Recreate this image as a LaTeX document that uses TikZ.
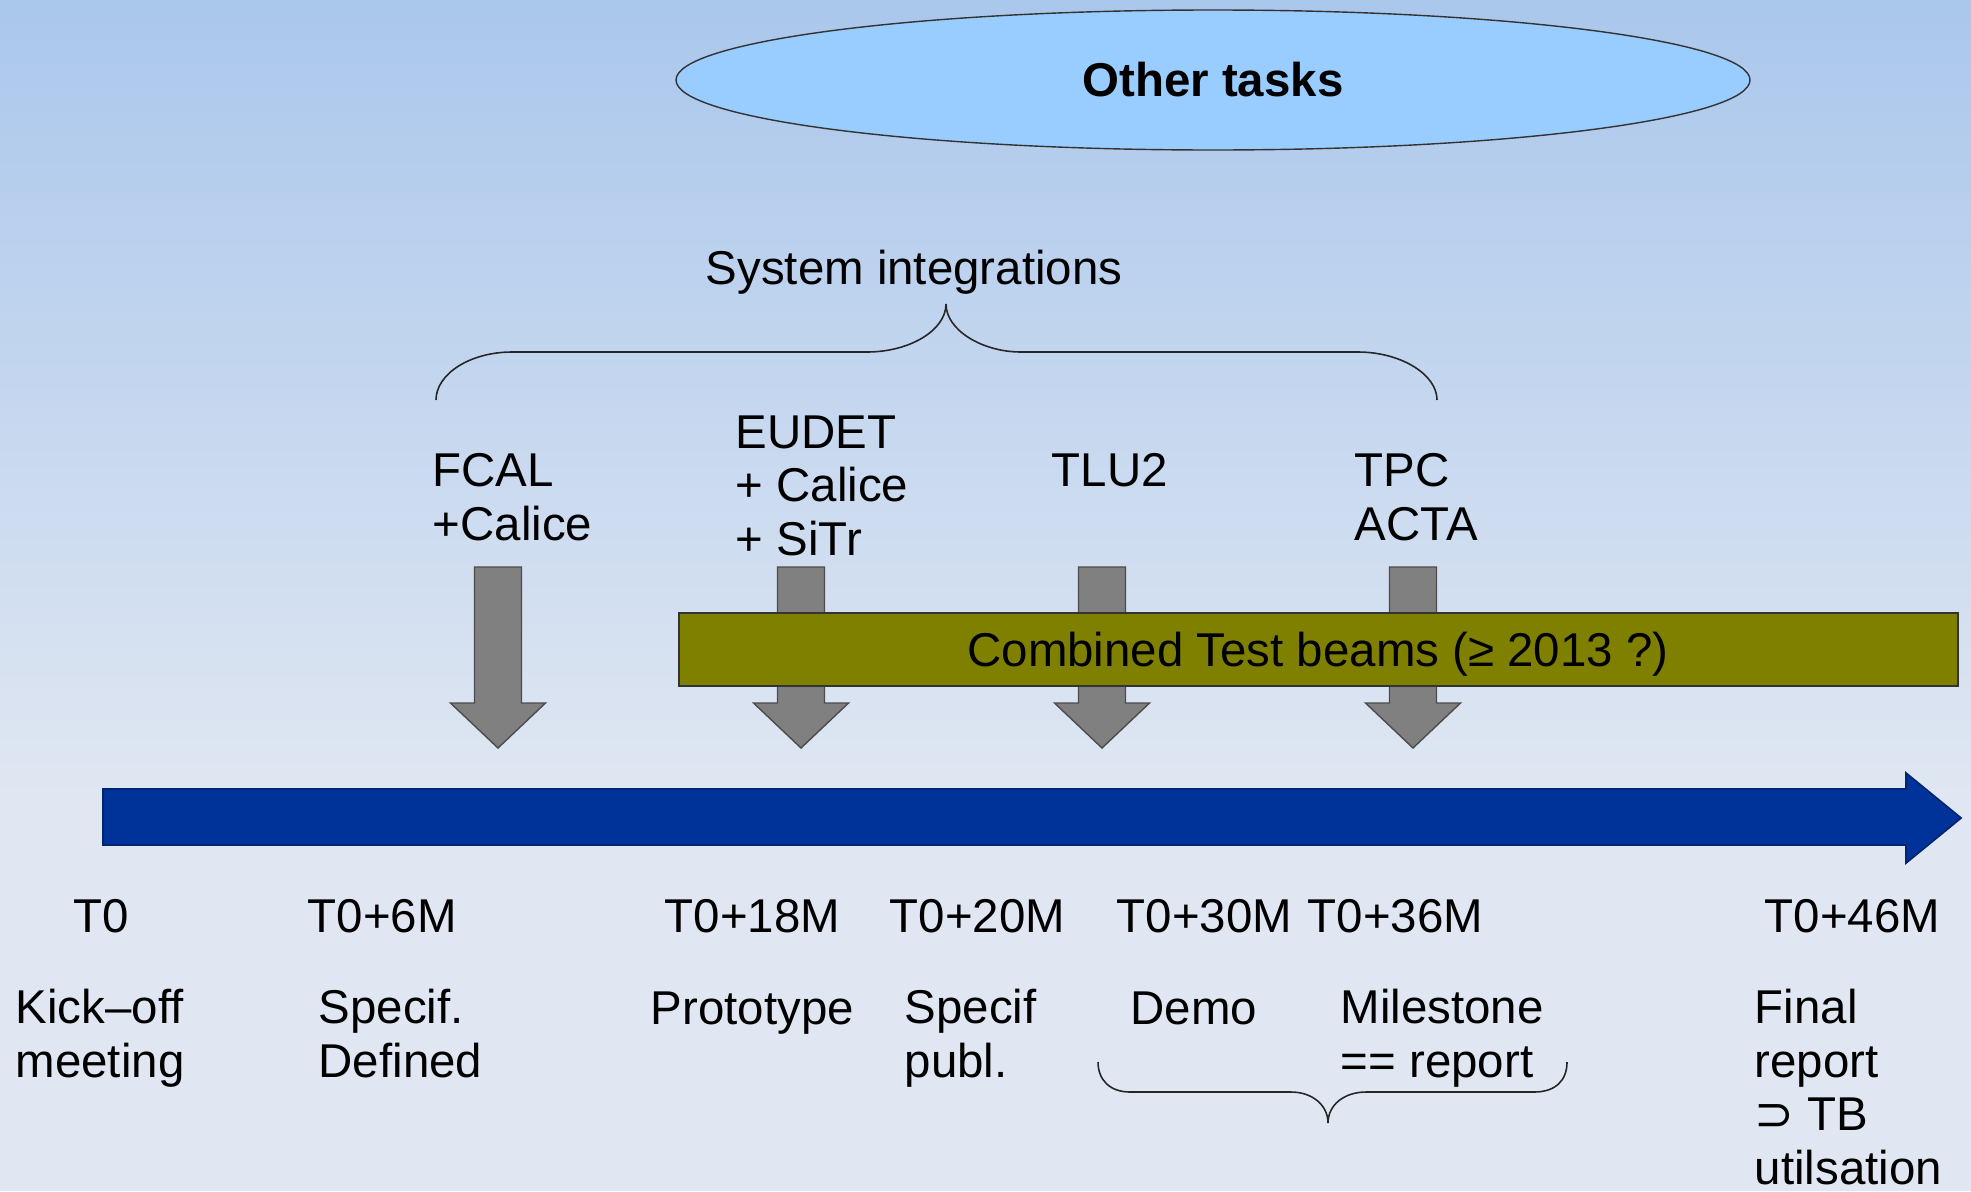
\documentclass[tikz,border=0pt]{standalone}
\usepackage{fontspec}
\setmainfont{Liberation Sans}
\newfontfamily\symfont{DejaVu Sans}
\usetikzlibrary{shapes.geometric}

\definecolor{skytop}{RGB}{170,199,236}
\definecolor{skybot}{RGB}{224,231,242}
\definecolor{taskblue}{RGB}{153,204,255}
\definecolor{beamolive}{RGB}{128,128,0}
\definecolor{lineblue}{RGB}{0,51,153}
\definecolor{arrgray}{RGB}{128,128,128}

% multi-line labels sit on the baseline of their last line
\tikzset{
  lbl/.style={anchor=base west,inner sep=0,align=left,font=\fontsize{13.5}{15.2}\selectfont},
  droparrow/.style={fill=arrgray,draw=black!70,line width=0.4pt},
  brace/.style={draw=black!85,line width=0.45pt},
}

\begin{document}
\begin{tikzpicture}[x=0.1mm,y=-0.1mm]
% background
\shade[top color=skytop,bottom color=skybot] (0,0) rectangle (1971,801);
\fill[skybot] (0,800) rectangle (1971,1191);
\useasboundingbox (0,0) rectangle (1971,1191);

\node[ellipse,draw=black!80,fill=taskblue,minimum width=10.74cm,minimum height=1.40cm,inner sep=0,
  font=\fontsize{13.5}{15.2}\selectfont\bfseries] (other) at (1213,80) {Other tasks};

\node[lbl] (sysint) at (705,284) {System integrations};
\draw[brace] (436,400) .. controls (436,374) and (470,352) .. (512,352) -- (867,352)
  .. controls (910,352) and (946,330) .. (946,304)
  .. controls (946,330) and (982,352) .. (1021,352) -- (1358,352)
  .. controls (1400,352) and (1437,374) .. (1437,400);

\node[lbl] (fcal) at (432,540) {FCAL\\+Calice};
\node[lbl] (eudet) at (735,555) {EUDET\\+ Calice\\+ SiTr};
\node[lbl] (tlu) at (1051,486) {TLU2};
\node[lbl] (tpc) at (1354,540) {TPC\\ACTA};

\foreach \x in {498,801,1102,1413}
  \filldraw[droparrow] (\x-23.5,567) -- ++(47,0) -- ++(0,136) -- ++(24,0) -- (\x,748)
    -- (\x-47.5,703) -- ++(24,0) -- cycle;

\filldraw[fill=beamolive,draw=black!80,line width=0.5pt] (679,613) rectangle (1958,686);
\node[anchor=base,inner sep=0,font=\fontsize{13.5}{15.2}\selectfont] (beams) at (1318,666)
  {Combined Test beams (≥ 2013 ?)};

% time line
\filldraw[fill=lineblue,draw=lineblue!75!black,line width=0.5pt] (103,789) -- (1906,789) -- (1906,773)
  -- (1961,818) -- (1906,863) -- (1906,845) -- (103,845) -- cycle;

\node[lbl] (m0) at (73,932) {T0};
\node[lbl] (m6) at (307,932) {T0+6M};
\node[lbl] (m18) at (664,932) {T0+18M};
\node[lbl] (m20) at (889,932) {T0+20M};
\node[lbl] (m30) at (1116,932) {T0+30M};
\node[lbl] (m36) at (1307,932) {T0+36M};
\node[lbl] (m46) at (1764,932) {T0+46M};

\node[lbl] (kickoff) at (15,1077) {Kick–off\\meeting};
\node[lbl] (specdef) at (318,1077) {Specif.\\Defined};
\node[lbl] (proto) at (650,1024) {Prototype};
\node[lbl] (specpub) at (904,1077) {Specif\\publ.};
\node[lbl] (demo) at (1130,1024) {Demo};
\node[lbl] (mstone) at (1340,1077) {Milestone\\== report};
\node[lbl] (final) at (1754,1184) {Final\\report\\{\symfont ⊃} TB\\utilsation};

\draw[brace] (1098,1062) .. controls (1098,1080) and (1110,1092) .. (1130,1092) -- (1291,1092)
  .. controls (1312,1092) and (1328,1105) .. (1328,1123)
  .. controls (1328,1105) and (1344,1092) .. (1366,1092) -- (1534,1092)
  .. controls (1556,1092) and (1567,1080) .. (1567,1062);
\end{tikzpicture}
\end{document}
